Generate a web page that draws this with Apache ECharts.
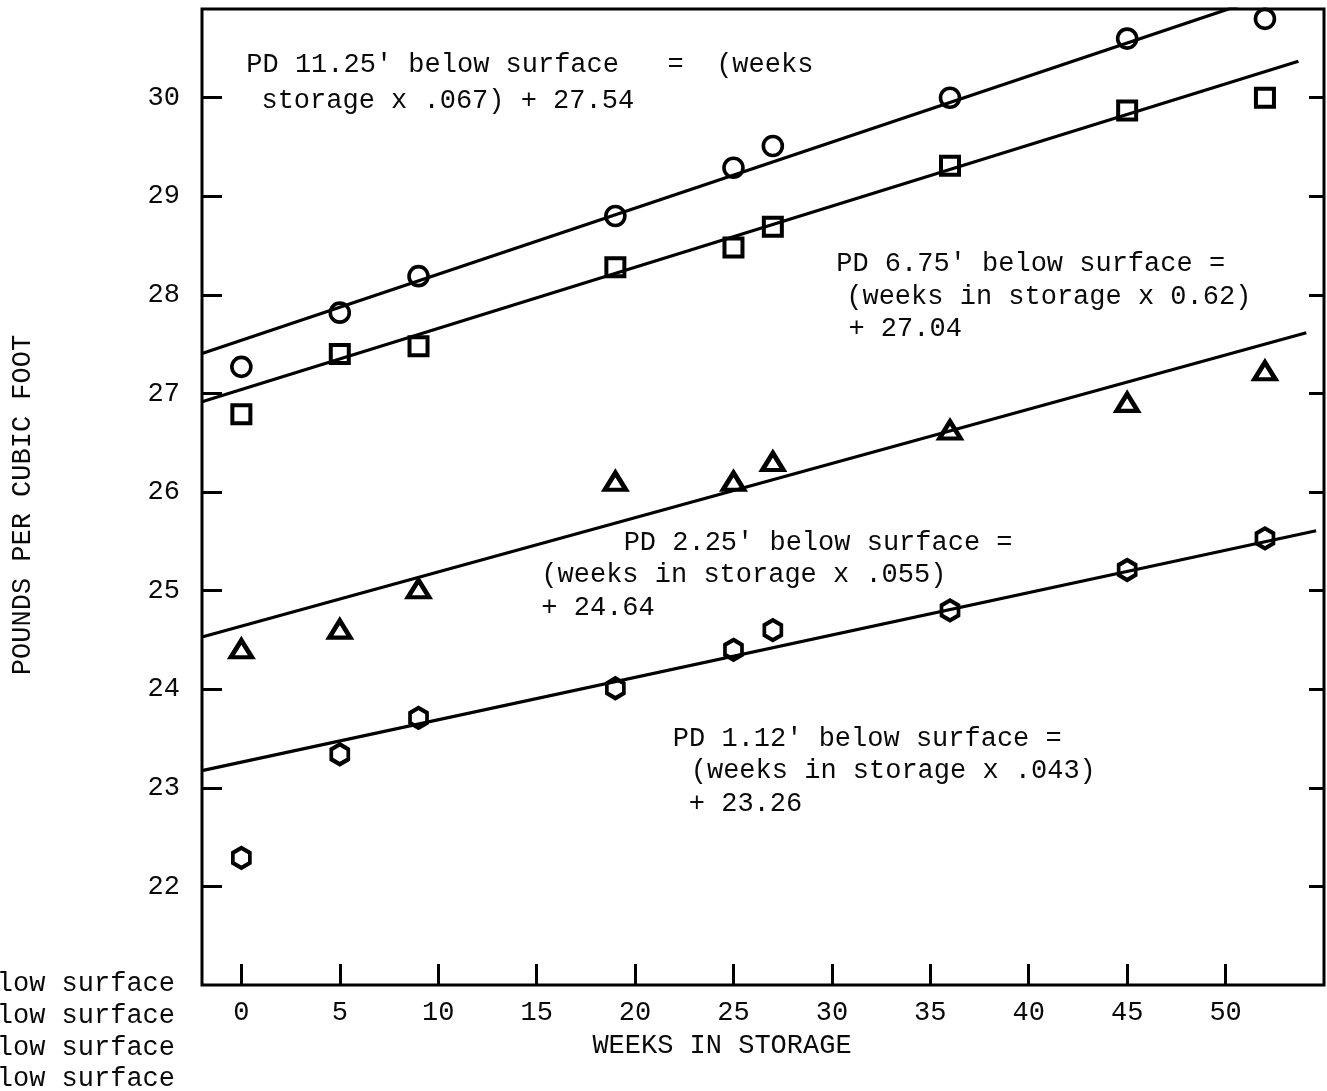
<!DOCTYPE html>
<html>
<head>
<meta charset="utf-8">
<title>Pounds per cubic foot vs. weeks in storage</title>
<script src="https://cdn.jsdelivr.net/npm/echarts@6/dist/echarts.min.js"></script>
<style>
  html, body { margin: 0; padding: 0; background: #ffffff; }
  #chart { width: 1327px; height: 1091px; }
</style>
</head>
<body>
<div id="chart"></div>
<script>
// Sampling times (weeks in storage)
const weeks = [0, 5, 9, 19, 25, 27, 36, 45, 52];

// Bulk density (lb/ft^3) at each depth below the surface
const pd1125 = [27.27, 27.82, 28.19, 28.80, 29.29, 29.51, 30.00, 30.60, 30.80];
const pd675  = [26.79, 27.40, 27.48, 28.28, 28.48, 28.69, 29.31, 29.87, 30.00];
const pd225  = [24.41, 24.61, 25.02, 26.11, 26.11, 26.31, 26.63, 26.91, 27.23];
const pd112  = [22.29, 23.34, 23.71, 24.01, 24.40, 24.60, 24.80, 25.21, 25.53];

// Tick values
const xTickValues = [0, 5, 10, 15, 20, 25, 30, 35, 40, 45, 50];
const yTickValues = [22, 23, 24, 25, 26, 27, 28, 29, 30];

// Fitted lines: PD = weeks * slope + intercept
// (the 6.75' equation is printed as "x 0.62"; the fitted slope is 0.062)
const fitSlope     = [0.067, 0.062, 0.055, 0.043];
const fitIntercept = [27.54, 27.04, 24.64, 23.26];
const fitStartWeek = [-2, -2, -2, -2];
const fitEndWeek   = [54, 53.7, 54.1, 54.6];

// Equation captions
const captions = [
  ["PD 11.25' below surface   =  (weeks", "storage x .067) + 27.54"],
  ["PD 6.75' below surface =", "(weeks in storage x 0.62)", "+ 27.04"],
  ["PD 2.25' below surface =", "(weeks in storage x .055)", "+ 24.64"],
  ["PD 1.12' below surface =", "(weeks in storage x .043)", "+ 23.26"]
];
const seriesNames = ["PD 11.25' below surface", "PD 6.75' below surface", "PD 2.25' below surface", "PD 1.12' below surface"];

const FONT = "'Liberation Mono', 'DejaVu Sans Mono', monospace";
const INK = '#0a0a0a';

const pairs = (xs, ys) => xs.map((x, i) => [x, ys[i]]);
const fitLine = i => [fitStartWeek[i], fitEndWeek[i]].map(w => [w, w * fitSlope[i] + fitIntercept[i]]);

const hexagon = 'path://M0,-1 L0.866,-0.5 L0.866,0.5 L0,1 L-0.866,0.5 L-0.866,-0.5 Z';

const hollow = (bw) => ({ color: 'rgba(0,0,0,0)', borderColor: '#000', borderWidth: bw, opacity: 1 });

const chart = echarts.init(document.getElementById('chart'), null, { renderer: 'canvas' });

const option = {
  backgroundColor: '#ffffff',
  animation: false,
  textStyle: { fontFamily: FONT, color: INK },
  grid: {
    left: 202, right: 3, top: 9, bottom: 106,
    show: true, borderColor: '#000', borderWidth: 3, backgroundColor: 'transparent'
  },
  xAxis: {
    type: 'value', min: -2, max: 55,
    splitLine: { show: false },
    axisLine: { show: false, onZero: false },
    axisTick: { show: true, inside: true, length: 21, customValues: xTickValues, lineStyle: { color: '#000', width: 3 } },
    axisLabel: { customValues: xTickValues, margin: 14, fontSize: 27, fontFamily: FONT, color: INK },
    name: 'WEEKS IN STORAGE', nameLocation: 'middle', nameGap: 47,
    nameTextStyle: { fontSize: 27, fontFamily: FONT, color: INK, padding: [0, 82, 0, 0] }
  },
  yAxis: [{
    type: 'value', min: 21, max: 30.9, position: 'left',
    splitLine: { show: false },
    axisLine: { show: false, onZero: false },
    axisTick: { show: true, inside: true, length: 20, customValues: yTickValues, lineStyle: { color: '#000', width: 3 } },
    axisLabel: { customValues: yTickValues, margin: 22, fontSize: 27, fontFamily: FONT, color: INK },
    name: 'POUNDS PER CUBIC FOOT', nameLocation: 'middle', nameRotate: 90, nameGap: 166,
    nameTextStyle: { fontSize: 27, fontFamily: FONT, color: INK, padding: [0, 16, 0, 0] }
  }, {
    type: 'value', min: 21, max: 30.9, position: 'right',
    splitLine: { show: false },
    axisLine: { show: false, onZero: false },
    axisTick: { show: true, inside: true, length: 15, customValues: yTickValues, lineStyle: { color: '#000', width: 3 } },
    axisLabel: { show: false }
  }],
  series: [
    { name: seriesNames[0] + ' fit', type: 'line', data: fitLine(0), symbol: 'none', clip: true, lineStyle: { color: '#000', width: 3.2 }, z: 2 },
    { name: seriesNames[1] + ' fit', type: 'line', data: fitLine(1), symbol: 'none', clip: true, lineStyle: { color: '#000', width: 3.2 }, z: 2 },
    { name: seriesNames[2] + ' fit', type: 'line', data: fitLine(2), symbol: 'none', clip: true, lineStyle: { color: '#000', width: 3.2 }, z: 2 },
    { name: seriesNames[3] + ' fit', type: 'line', data: fitLine(3), symbol: 'none', clip: true, lineStyle: { color: '#000', width: 3.2 }, z: 2 },
    { name: seriesNames[0], type: 'scatter', data: pairs(weeks, pd1125), symbol: 'circle', symbolSize: 19, itemStyle: hollow(3.6), z: 3 },
    { name: seriesNames[1], type: 'scatter', data: pairs(weeks, pd675), symbol: 'rect', symbolSize: 18, itemStyle: hollow(4), z: 3 },
    { name: seriesNames[2], type: 'scatter', data: pairs(weeks, pd225), symbol: 'triangle', symbolSize: [21, 17], itemStyle: hollow(4.5), z: 3 },
    { name: seriesNames[3], type: 'scatter', data: pairs(weeks, pd112), symbol: hexagon, symbolSize: [17, 20], itemStyle: hollow(4), z: 3 }
  ]
};

chart.setOption(option);

// Caption placement, given in axis units: [week, pounds] of the left/middle of each line
const captionAnchors = [
  [[0.25, 30.36], [1.02, 30.00]],
  [[30.22, 28.35], [30.73, 28.01], [30.84, 27.69]],
  [[19.42, 25.52], [15.24, 25.19], [15.24, 24.86]],
  [[21.92, 23.53], [22.83, 23.20], [22.73, 22.87]]
];

const graphics = [];
captions.forEach((lines, ci) => {
  lines.forEach((txt, li) => {
    const p = chart.convertToPixel({ gridIndex: 0 }, captionAnchors[ci][li]);
    graphics.push({
      type: 'text', x: p[0], y: p[1] + 3, z: 10,
      style: { text: txt, fontSize: 27, fontFamily: FONT, fill: INK, textAlign: 'left', textVerticalAlign: 'middle' }
    });
  });
});

// Key entries along the lower-left margin, right-aligned against the plot
const gridRect = chart.getModel().getComponent('grid', 0).coordinateSystem.getRect();
seriesNames.forEach((name, i) => {
  graphics.push({
    type: 'text', x: gridRect.x - 27, y: gridRect.y + gridRect.height - 1 + i * 31.7, z: 10,
    style: { text: name, fontSize: 27, fontFamily: FONT, fill: INK, textAlign: 'right', textVerticalAlign: 'middle' }
  });
});

chart.setOption({ graphic: graphics });
</script>
</body>
</html>
